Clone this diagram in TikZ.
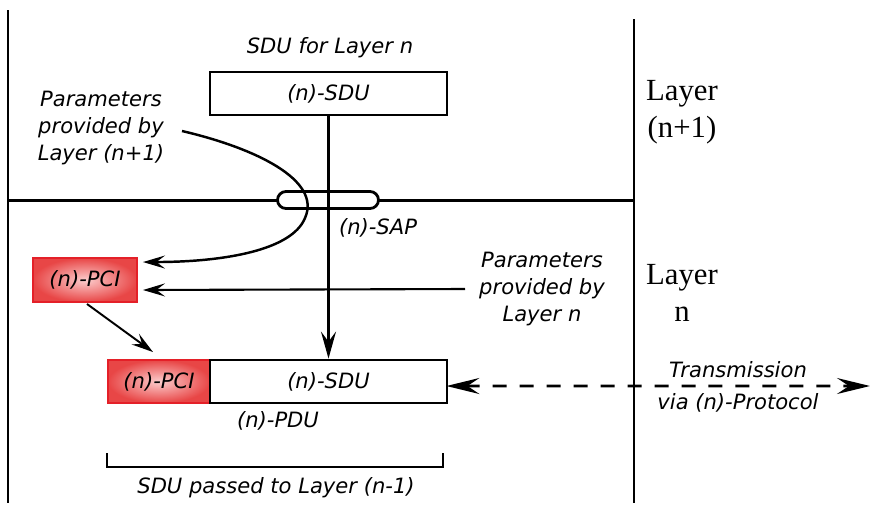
\documentclass[tikz,border=0pt]{standalone}
\usepackage{fontspec}
\setmainfont{DejaVu Sans}
\newfontfamily\layerfont{Liberation Serif}
\usetikzlibrary{arrows.meta,calc}
\definecolor{pcired}{RGB}{228,32,40}
\definecolor{pciin}{RGB}{252,205,205}
\definecolor{pciout}{RGB}{232,70,70}
\begin{document}
\begin{tikzpicture}[x=0.02cm,y=-0.02cm,
  lbl/.style={font=\fontsize{12}{15.5}\selectfont\itshape, align=center, inner sep=0},
  layerlbl/.style={font=\fontsize{17.5}{21}\selectfont\layerfont, align=center, inner sep=0},
  frame/.style={line width=1.7pt},
  box/.style={draw, line width=1.6pt, minimum height=0.86cm, inner sep=0, font=\fontsize{12}{15}\selectfont\itshape},
  pcibox/.style={draw=pcired, line width=1.1pt, minimum height=0.86cm, inner sep=0,
    inner color=pciin, outer color=pciout, font=\fontsize{12}{15}\selectfont\itshape},
  arr/.style={-{Stealth[length=0.44cm,width=0.26cm,inset=0.17cm]}},
  varr/.style={-{Stealth[length=0.54cm,width=0.3cm,inset=0.2cm]}},
  darr/.style={{Stealth[length=0.66cm,width=0.32cm,inset=0.24cm]}-{Stealth[length=0.66cm,width=0.32cm,inset=0.24cm]}},
]
\useasboundingbox (0,0) rectangle (877,512);

% frame lines
\draw[frame] (8,10) -- (8,503);
\draw[frame] (634,19) -- (634,503);
\draw[frame] (8,200) -- (634,200);

% upper layer
\node[lbl] (sdutitle) at (330,48) {SDU for Layer n};
\node[box, minimum width=4.74cm] (sdu1) at (328.5,93.5) {(n)-SDU};
\node[lbl] (parup) at (101,128) {Parameters\\provided by\\Layer (n+1)};
\coordinate (curvestart) at (182,131);

% SAP
\node[draw, fill=white, line width=1.6pt, minimum width=2.02cm, minimum height=0.34cm,
      rounded corners=0.17cm, inner sep=0] (sap) at (328,200) {};
\node[lbl] (saplbl) at (378,228) {(n)-SAP};

% lower layer
\node[pcibox, minimum width=2.08cm, minimum height=0.88cm] (pci1) at (85,280) {(n)-PCI};
\node[lbl] (pardown) at (542,289) {Parameters\\provided by\\Layer n};
\node[pcibox, minimum width=2.04cm] (pci2) at (159,381.5) {(n)-PCI};
\node[box, minimum width=4.74cm] (sdu2) at (328.5,381.5) {(n)-SDU};
\node[lbl] (pdulbl) at (278,421) {(n)-PDU};

% bracket
\draw[line width=1.6pt] (107,453) -- (107,467) -- (443,467) -- (443,453);
\node[lbl] (passed) at (276,488) {SDU passed to Layer (n-1)};

% layer labels
\node[layerlbl] (ln1) at (682,112) {Layer\\(n+1)};
\node[layerlbl] (ln) at (682,293) {Layer\\n};

% transmission
\coordinate (txend) at (870,386);
\draw[darr, line width=1.6pt, dash pattern=on 0.28cm off 0.26cm] ($(sdu2.east)+(-2,4.5)$) -- (txend);
\node[lbl] (tx1) at (738,370) {Transmission};
\node[lbl] (tx2) at (738,403) {via (n)-Protocol};

% connectors
\draw[varr, line width=1.4pt] (sdu1.south) -- (sdu2.north);
\draw[arr, line width=1.4pt] (curvestart) .. controls (255,148) and (322,180) .. (305,218)
   .. controls (292,250) and (225,262) .. ($(pci1.north east)+(5,5)$);
\draw[arr, line width=1.2pt] (pardown.west -| 465,0) -- ($(pci1.east)+(5,10)$);
\draw[arr, line width=1.1pt] ($(pci1.south)+(2,1)$) -- ($(pci2.north)+(-6,-7)$);
\end{tikzpicture}
\end{document}
